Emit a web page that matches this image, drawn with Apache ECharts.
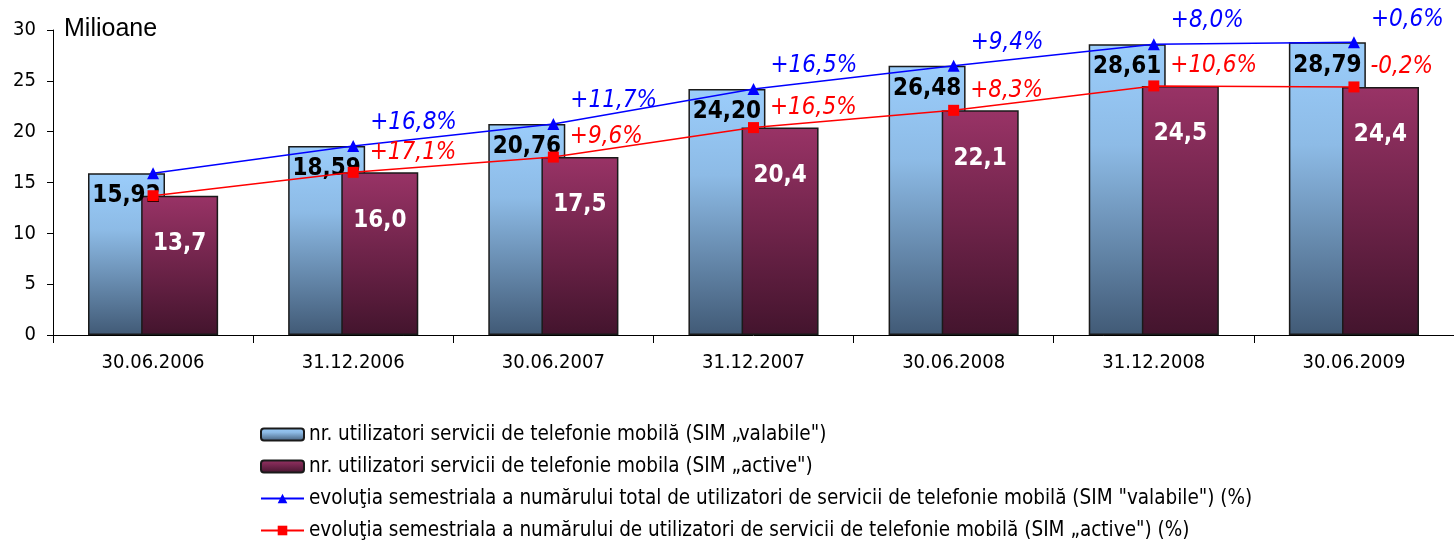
<!DOCTYPE html>
<html>
<head>
<meta charset="utf-8">
<script src="https://cdn.jsdelivr.net/npm/echarts@6/dist/echarts.min.js"></script>
<style>
html,body{margin:0;padding:0;background:#fff;}
#chart{width:1454px;height:542px;}
</style>
</head>
<body>
<div id="chart"></div>
<script>
var categories = ['30.06.2006','31.12.2006','30.06.2007','31.12.2007','30.06.2008','31.12.2008','30.06.2009'];
var simValabile = [15.92, 18.59, 20.76, 24.20, 26.48, 28.61, 28.79];
var simActive = [13.7, 16.0, 17.5, 20.4, 22.1, 24.5, 24.4];
var evolValabile = [null, '+16,8%', '+11,7%', '+16,5%', '+9,4%', '+8,0%', '+0,6%'];
var evolActive = [null, '+17,1%', '+9,6%', '+16,5%', '+8,3%', '+10,6%', '-0,2%'];
var yTicks = [0, 5, 10, 15, 20, 25, 30];

var names = [
  'nr. utilizatori servicii de telefonie mobilă (SIM „valabile")',
  'nr. utilizatori servicii de telefonie mobila (SIM „active")',
  'evoluţia semestriala a numărului total de utilizatori de servicii de telefonie mobilă (SIM "valabile") (%)',
  'evoluţia semestriala a numărului de utilizatori de servicii de telefonie mobilă (SIM „active") (%)'
];

var FONT = '"DejaVu Sans Condensed","DejaVu Sans",sans-serif';
function fmt(v, d){ return v.toFixed(d).replace('.', ','); }

var chart = echarts.init(document.getElementById('chart'));
chart.setOption({
  animation: false,
  backgroundColor: '#ffffff',
  title: {
    text: 'Milioane', left: 59, top: 12,
    textStyle: { fontFamily: '"Liberation Sans",Arial,sans-serif', fontSize: 25, fontWeight: 'normal', color: '#000' }
  },
  grid: { left: 53, top: 30, width: 1403, bottom: 207, containLabel: false },
  legend: {
    orient: 'vertical', left: 255, top: 419, height: 140,
    itemWidth: 43, itemHeight: 12, itemGap: 11,
    textStyle: { fontFamily: FONT, fontSize: 20.5, color: '#000', lineHeight: 21 },
    data: names
  },
  xAxis: {
    type: 'category', data: categories, boundaryGap: true,
    axisLine: { lineStyle: { color: '#000', width: 1 } },
    axisTick: { show: true, length: 8, lineStyle: { color: '#000' } },
    axisLabel: { fontFamily: FONT, fontSize: 20, color: '#000', margin: 18 }
  },
  yAxis: {
    type: 'value', min: yTicks[0], max: yTicks[yTicks.length-1], interval: 5,
    axisLine: { show: true, lineStyle: { color: '#000', width: 1 } },
    axisTick: { show: true, length: 6, lineStyle: { color: '#000' } },
    axisLabel: { fontFamily: FONT, fontSize: 20, color: '#000', margin: 17 },
    splitLine: { show: false }
  },
  series: [
    {
      name: names[0], type: 'bar', data: simValabile, barWidth: 77, barGap: '-31%',
      itemStyle: {
        color: new echarts.graphic.LinearGradient(0,0,0,1,[{offset:0,color:'#9BCDFB'},{offset:0.35,color:'#8DBBE6'},{offset:1,color:'#415A76'}]),
        borderColor: '#1a1a1a', borderWidth: 1.5
      },
      label: {
        show: true, position: 'insideTop', distance: 11,
        formatter: function(p){ return fmt(p.value, 2); },
        fontFamily: FONT, fontSize: 24, fontWeight: 'bold', color: '#000'
      },
      z: 2
    },
    {
      name: names[1], type: 'bar', data: simActive, barWidth: 77,
      itemStyle: {
        color: new echarts.graphic.LinearGradient(0,0,0,1,[{offset:0,color:'#993366'},{offset:1,color:'#43142D'}]),
        borderColor: '#1a1a1a', borderWidth: 1.5
      },
      label: {
        show: true, position: 'insideTop', distance: 36,
        formatter: function(p){ return fmt(p.value, 1); },
        fontFamily: FONT, fontSize: 24, fontWeight: 'bold', color: '#fff'
      },
      z: 2
    },
    {
      name: names[2], type: 'line', data: simValabile,
      symbol: 'triangle', symbolSize: 12,
      lineStyle: { color: '#0000FF', width: 1.5 },
      itemStyle: { color: '#0000FF' },
      label: {
        show: true, position: 'right', distance: 4, offset: [7, -23],
        formatter: function(p){ return evolValabile[p.dataIndex] || ''; },
        fontFamily: FONT, fontSize: 24, fontStyle: 'italic', color: '#0000FF'
      },
      z: 3
    },
    {
      name: names[3], type: 'line', data: simActive,
      symbol: 'rect', symbolSize: 11,
      lineStyle: { color: '#FF0000', width: 1.5 },
      itemStyle: { color: '#FF0000' },
      label: {
        show: true, position: 'right', distance: 4, offset: [7, -20],
        formatter: function(p){ return evolActive[p.dataIndex] || ''; },
        fontFamily: FONT, fontSize: 24, fontStyle: 'italic', color: '#FF0000'
      },
      z: 3
    }
  ]
});
</script>
</body>
</html>
